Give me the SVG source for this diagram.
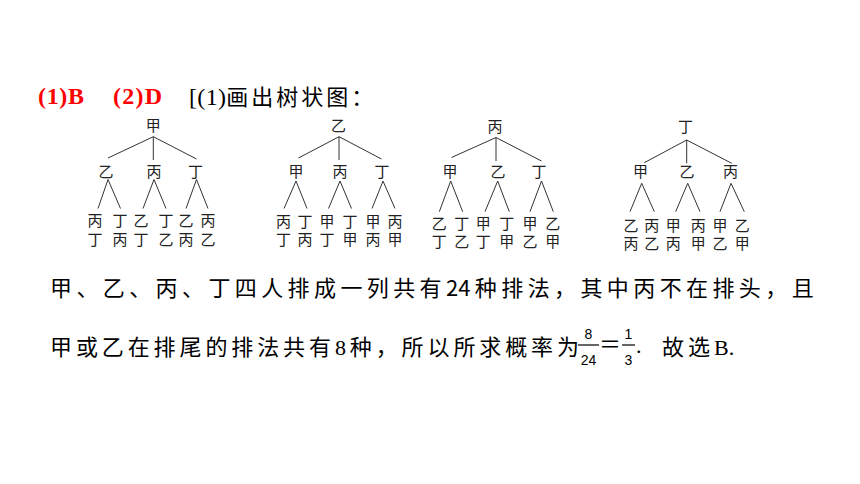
<svg xmlns="http://www.w3.org/2000/svg" width="860" height="484" viewBox="0 0 860 484">
<style>
.t{font-family:"Noto Sans CJK SC",sans-serif;font-size:15px;fill:#222;text-anchor:middle}
.c line{stroke:#333;stroke-width:1}
.red{font-family:"Liberation Serif","Noto Sans CJK SC",serif;font-size:24px;font-weight:bold;fill:#ff0000}
.body{font-family:"Noto Sans CJK SC",sans-serif;font-size:22px;fill:#000}
.ser{font-family:"Liberation Serif","Noto Sans CJK SC",serif;font-size:22px;fill:#000}
.fr{font-family:"Liberation Sans",sans-serif;font-size:14px;fill:#000;text-anchor:middle}
</style>
<rect width="860" height="484" fill="#fff"/>
<g id="header">
<text class="red" x="38" y="104" textLength="46" lengthAdjust="spacing">(1)B</text>
<text class="red" x="113" y="104" textLength="49" lengthAdjust="spacing">(2)D</text>
<text y="105" fill="#000"><tspan x="189" font-family="Liberation Serif,serif" font-size="24" textLength="37" lengthAdjust="spacing">[(1)</tspan><tspan font-family="Noto Sans CJK SC,sans-serif" font-size="22" letter-spacing="3">画出树状图：</tspan></text>
</g>
<g id="connectors" class="c">
<line x1="153.3" y1="136.7" x2="108" y2="158"/><line x1="153.3" y1="136.7" x2="153.3" y2="160"/><line x1="153.3" y1="136.7" x2="196.5" y2="159"/>
<line x1="108" y1="179.5" x2="98" y2="208.5"/><line x1="108" y1="179.5" x2="120.5" y2="208.5"/>
<line x1="154" y1="179.5" x2="143" y2="208.5"/><line x1="154" y1="179.5" x2="166" y2="208.5"/>
<line x1="196.5" y1="179.5" x2="186" y2="208.5"/><line x1="196.5" y1="179.5" x2="208" y2="208.5"/>
<line x1="339" y1="136.7" x2="298.5" y2="158"/><line x1="339" y1="136.7" x2="339" y2="160"/><line x1="339" y1="136.7" x2="381.5" y2="159"/>
<line x1="296" y1="181" x2="284" y2="208.5"/><line x1="296" y1="181" x2="307" y2="208.5"/>
<line x1="340" y1="181" x2="328.5" y2="208.5"/><line x1="340" y1="181" x2="351.5" y2="208.5"/>
<line x1="383" y1="181" x2="372" y2="208.5"/><line x1="383" y1="181" x2="395" y2="208.5"/>
<line x1="496" y1="137.5" x2="451.5" y2="157.5"/><line x1="496" y1="137.5" x2="496" y2="161"/><line x1="496" y1="137.5" x2="541.5" y2="161"/>
<line x1="450.7" y1="181" x2="439.3" y2="211.7"/><line x1="450.7" y1="181" x2="462.7" y2="211.7"/>
<line x1="497.7" y1="181" x2="485" y2="211.7"/><line x1="497.7" y1="181" x2="509.3" y2="211.7"/>
<line x1="541.5" y1="181" x2="530" y2="211.7"/><line x1="541.5" y1="181" x2="553.3" y2="211.7"/>
<line x1="686.7" y1="140" x2="644.3" y2="162.7"/><line x1="686.7" y1="140" x2="686.7" y2="163.3"/><line x1="686.7" y1="140" x2="731.7" y2="163.3"/>
<line x1="641.7" y1="183.3" x2="630" y2="211.7"/><line x1="641.7" y1="183.3" x2="654.3" y2="211.7"/>
<line x1="687.7" y1="183.3" x2="675.7" y2="211.7"/><line x1="687.7" y1="183.3" x2="700" y2="211.7"/>
<line x1="731" y1="183.3" x2="720" y2="211.7"/><line x1="731" y1="183.3" x2="744.3" y2="211.7"/>
</g>
<g id="tree1">
<g id="t1-root"><text class="t" x="153.3" y="130.7">甲</text></g>
<g id="t1-a"><text class="t" x="106" y="177.4">乙</text></g>
<g id="t1-b"><text class="t" x="154" y="177.4">丙</text></g>
<g id="t1-c"><text class="t" x="195.5" y="177.4">丁</text></g>
<g id="t1-l1"><text class="t" x="95" y="226">丙</text><text class="t" x="95" y="244.5">丁</text></g>
<g id="t1-l2"><text class="t" x="120" y="226">丁</text><text class="t" x="120" y="244.5">丙</text></g>
<g id="t1-l3"><text class="t" x="141" y="226">乙</text><text class="t" x="141" y="244.5">丁</text></g>
<g id="t1-l4"><text class="t" x="166" y="226">丁</text><text class="t" x="166" y="244.5">乙</text></g>
<g id="t1-l5"><text class="t" x="186" y="226">乙</text><text class="t" x="186" y="244.5">丙</text></g>
<g id="t1-l6"><text class="t" x="208" y="226">丙</text><text class="t" x="208" y="244.5">乙</text></g>
</g>
<g id="tree2">
<g id="t2-root"><text class="t" x="338.5" y="130.7">乙</text></g>
<g id="t2-a"><text class="t" x="296" y="177.4">甲</text></g>
<g id="t2-b"><text class="t" x="340" y="177.4">丙</text></g>
<g id="t2-c"><text class="t" x="382" y="177.4">丁</text></g>
<g id="t2-l1"><text class="t" x="283.5" y="226.5">丙</text><text class="t" x="283.5" y="245">丁</text></g>
<g id="t2-l2"><text class="t" x="305" y="226.5">丁</text><text class="t" x="305" y="245">丙</text></g>
<g id="t2-l3"><text class="t" x="327" y="226.5">甲</text><text class="t" x="327" y="245">丁</text></g>
<g id="t2-l4"><text class="t" x="350" y="226.5">丁</text><text class="t" x="350" y="245">甲</text></g>
<g id="t2-l5"><text class="t" x="373" y="226.5">甲</text><text class="t" x="373" y="245">丙</text></g>
<g id="t2-l6"><text class="t" x="395" y="226.5">丙</text><text class="t" x="395" y="245">甲</text></g>
</g>
<g id="tree3">
<g id="t3-root"><text class="t" x="495" y="132">丙</text></g>
<g id="t3-a"><text class="t" x="450" y="177.4">甲</text></g>
<g id="t3-b"><text class="t" x="498" y="177.4">乙</text></g>
<g id="t3-c"><text class="t" x="539" y="177.4">丁</text></g>
<g id="t3-l1"><text class="t" x="439.3" y="229">乙</text><text class="t" x="439.3" y="247.4">丁</text></g>
<g id="t3-l2"><text class="t" x="461.7" y="229">丁</text><text class="t" x="461.7" y="247.4">乙</text></g>
<g id="t3-l3"><text class="t" x="483.3" y="229">甲</text><text class="t" x="483.3" y="247.4">丁</text></g>
<g id="t3-l4"><text class="t" x="506.7" y="229">丁</text><text class="t" x="506.7" y="247.4">甲</text></g>
<g id="t3-l5"><text class="t" x="530" y="229">甲</text><text class="t" x="530" y="247.4">乙</text></g>
<g id="t3-l6"><text class="t" x="552.7" y="229">乙</text><text class="t" x="552.7" y="247.4">甲</text></g>
</g>
<g id="tree4">
<g id="t4-root"><text class="t" x="685.5" y="132.4">丁</text></g>
<g id="t4-a"><text class="t" x="640.5" y="177.4">甲</text></g>
<g id="t4-b"><text class="t" x="687" y="177.4">乙</text></g>
<g id="t4-c"><text class="t" x="730.5" y="177.4">丙</text></g>
<g id="t4-l1"><text class="t" x="631" y="230.7">乙</text><text class="t" x="631" y="249">丙</text></g>
<g id="t4-l2"><text class="t" x="651.7" y="230.7">丙</text><text class="t" x="651.7" y="249">乙</text></g>
<g id="t4-l3"><text class="t" x="673.3" y="230.7">甲</text><text class="t" x="673.3" y="249">丙</text></g>
<g id="t4-l4"><text class="t" x="698.3" y="230.7">丙</text><text class="t" x="698.3" y="249">甲</text></g>
<g id="t4-l5"><text class="t" x="720" y="230.7">甲</text><text class="t" x="720" y="249">乙</text></g>
<g id="t4-l6"><text class="t" x="742.3" y="230.7">乙</text><text class="t" x="742.3" y="249">甲</text></g>
</g>
<g id="explanation">
<text class="body" x="50" y="296" letter-spacing="4.4">甲、乙、丙、丁四人排成一列共有<tspan letter-spacing="0">2</tspan>4种排法，其中丙不在排头，<tspan letter-spacing="0">且</tspan></text>
<text class="body" x="50" y="354.5" letter-spacing="3.9">甲或乙在排尾的排法共有<tspan font-family="Liberation Serif,serif">8</tspan>种，所以所求概率<tspan letter-spacing="0">为</tspan></text>
<text class="fr" x="588.5" y="338.5">8</text>
<line x1="578" y1="345" x2="599" y2="345" stroke="#000" stroke-width="1.2"/>
<text class="fr" x="588.5" y="365">24</text>
<text class="body" x="610" y="352" text-anchor="middle">＝</text>
<text class="fr" x="628.5" y="338.5">1</text>
<line x1="622" y1="345" x2="635" y2="345" stroke="#000" stroke-width="1.2"/>
<text class="fr" x="628.5" y="365">3</text>
<text class="ser" x="636" y="353">.</text>
<text class="body" x="662" y="354.5" letter-spacing="4">故<tspan letter-spacing="0">选</tspan></text>
<text class="ser" x="714" y="354.5">B.</text>
</g>
</svg>
